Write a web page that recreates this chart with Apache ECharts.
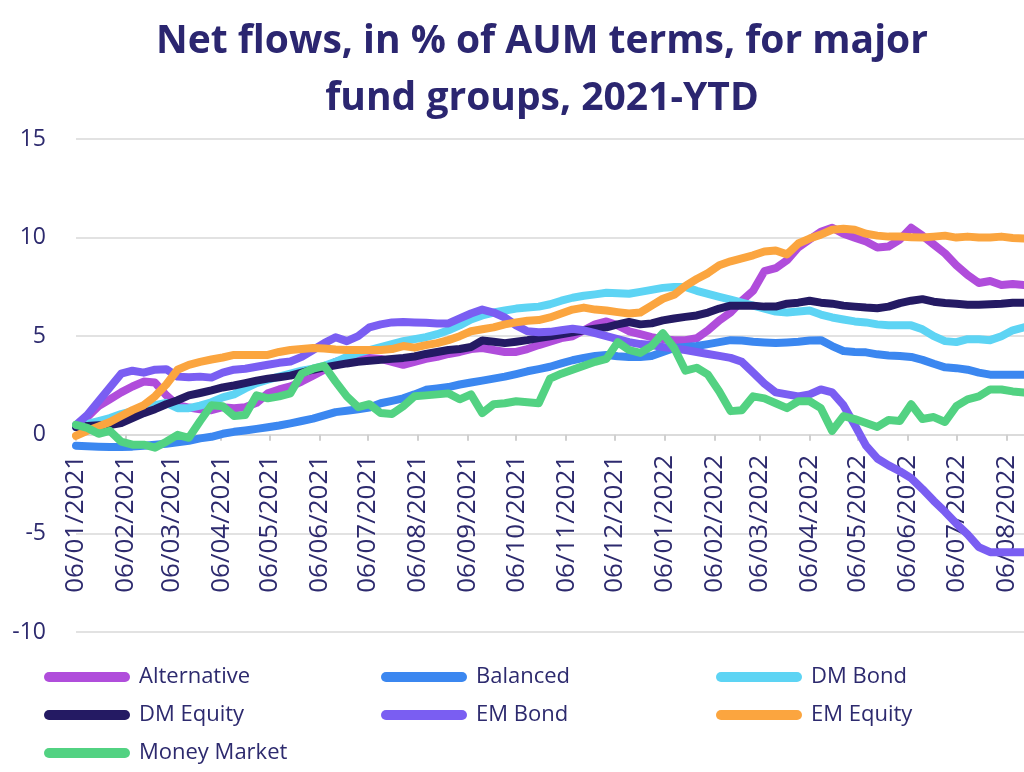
<!DOCTYPE html>
<html><head><meta charset="utf-8">
<script src="https://cdn.jsdelivr.net/npm/echarts@6/dist/echarts.min.js"></script>
<style>html,body{margin:0;padding:0;background:#fff;overflow:hidden}#c{width:1024px;height:772px}</style>
</head><body><div id="c"></div>
<script>
const titleText = 'Net flows, in % of AUM terms, for major\nfund groups, 2021-YTD';
const seriesNames = ['Alternative','Balanced','DM Bond','DM Equity','EM Bond','EM Equity','Money Market'];
const tickLabels = ['06/01/2021','06/02/2021','06/03/2021','06/04/2021','06/05/2021','06/06/2021','06/07/2021','06/08/2021','06/09/2021','06/10/2021','06/11/2021','06/12/2021','06/01/2022','06/02/2022','06/03/2022','06/04/2022','06/05/2022','06/06/2022','06/07/2022','06/08/2022'];
const yTicks = [-10,-5,0,5,10,15];
const firstDate = '06/01/2021';
const weeksCount = 85;

const alternative = [0.4,0.9,1.45,1.8,2.15,2.45,2.7,2.65,2.0,1.5,1.38,1.3,1.25,1.4,1.35,1.4,1.62,2.1,2.3,2.45,2.7,3.0,3.3,3.7,3.85,3.9,3.9,3.85,3.7,3.55,3.7,3.85,3.95,4.1,4.2,4.35,4.4,4.3,4.2,4.2,4.35,4.55,4.72,4.9,5.0,5.3,5.6,5.75,5.55,5.25,5.1,4.95,4.85,4.8,4.8,4.9,5.3,5.8,6.2,6.8,7.3,8.3,8.45,8.85,9.5,9.9,10.3,10.5,10.2,10.0,9.8,9.5,9.55,9.9,10.5,10.1,9.65,9.2,8.6,8.1,7.7,7.8,7.6,7.65,7.6];
const balanced = [-0.55,-0.58,-0.6,-0.62,-0.62,-0.6,-0.55,-0.5,-0.45,-0.38,-0.3,-0.18,-0.1,0.05,0.15,0.22,0.3,0.38,0.47,0.58,0.7,0.82,0.98,1.15,1.22,1.3,1.38,1.6,1.72,1.85,2.05,2.28,2.35,2.42,2.55,2.65,2.75,2.85,2.95,3.08,3.22,3.33,3.45,3.62,3.78,3.9,4.0,4.05,3.98,3.95,3.95,4.0,4.2,4.4,4.45,4.5,4.6,4.7,4.8,4.78,4.72,4.68,4.65,4.68,4.72,4.78,4.8,4.5,4.25,4.2,4.18,4.08,4.02,4.0,3.95,3.8,3.6,3.42,3.38,3.3,3.15,3.05,3.05,3.05,3.05];
const dmBond = [0.4,0.55,0.7,0.85,1.05,1.2,1.38,1.5,1.62,1.35,1.35,1.48,1.65,1.9,2.05,2.35,2.62,2.8,2.95,3.1,3.25,3.35,3.5,3.7,3.95,4.15,4.3,4.45,4.6,4.75,4.85,4.95,5.1,5.3,5.55,5.85,6.05,6.2,6.3,6.4,6.45,6.5,6.62,6.8,6.95,7.05,7.12,7.2,7.18,7.15,7.25,7.35,7.45,7.5,7.5,7.3,7.15,7.0,6.85,6.7,6.55,6.4,6.25,6.2,6.25,6.3,6.1,5.95,5.85,5.75,5.7,5.6,5.55,5.55,5.55,5.35,5.0,4.75,4.7,4.85,4.85,4.8,5.0,5.3,5.45];
const dmEquity = [0.4,0.45,0.48,0.5,0.6,0.85,1.1,1.3,1.55,1.75,2.0,2.12,2.25,2.4,2.5,2.62,2.75,2.85,2.92,3.0,3.15,3.3,3.42,3.52,3.62,3.7,3.75,3.8,3.85,3.9,3.97,4.1,4.2,4.3,4.35,4.45,4.78,4.72,4.65,4.72,4.8,4.9,5.0,5.1,5.2,5.3,5.38,5.45,5.6,5.72,5.6,5.65,5.8,5.9,5.98,6.05,6.2,6.4,6.55,6.55,6.55,6.5,6.5,6.65,6.7,6.8,6.7,6.65,6.55,6.5,6.45,6.42,6.5,6.68,6.8,6.88,6.75,6.68,6.65,6.6,6.6,6.62,6.65,6.7,6.7];
const emBond = [0.5,1.0,1.7,2.4,3.1,3.25,3.15,3.3,3.33,2.95,2.92,2.95,2.9,3.15,3.3,3.35,3.45,3.55,3.65,3.72,3.95,4.3,4.65,4.95,4.75,5.0,5.45,5.6,5.7,5.72,5.7,5.68,5.65,5.65,5.9,6.15,6.35,6.2,5.95,5.55,5.25,5.2,5.22,5.3,5.38,5.3,5.15,5.0,4.85,4.7,4.6,4.55,4.45,4.38,4.3,4.2,4.1,4.0,3.9,3.7,3.15,2.6,2.15,2.05,1.95,2.05,2.3,2.15,1.5,0.5,-0.55,-1.2,-1.55,-1.85,-2.2,-2.75,-3.35,-3.9,-4.5,-5.05,-5.7,-5.95,-5.95,-5.95,-5.95];
const emEquity = [-0.05,0.2,0.42,0.65,0.95,1.25,1.5,1.95,2.55,3.3,3.55,3.7,3.82,3.92,4.05,4.05,4.05,4.05,4.2,4.3,4.35,4.4,4.38,4.33,4.3,4.3,4.3,4.3,4.35,4.5,4.42,4.55,4.65,4.8,5.0,5.25,5.35,5.45,5.6,5.7,5.78,5.82,5.95,6.15,6.35,6.45,6.35,6.3,6.22,6.15,6.2,6.55,6.9,7.1,7.55,7.9,8.2,8.6,8.8,8.95,9.1,9.3,9.35,9.15,9.7,9.95,10.15,10.4,10.45,10.4,10.2,10.1,10.05,10.05,10.02,10.0,10.05,10.1,10.0,10.05,10.0,10.0,10.05,9.98,9.95];
const moneyMarket = [0.5,0.35,0.05,0.2,-0.35,-0.5,-0.5,-0.65,-0.35,0.0,-0.15,0.7,1.5,1.45,0.95,1.0,2.0,1.85,1.95,2.1,3.1,3.35,3.5,2.7,1.95,1.4,1.55,1.1,1.05,1.45,1.95,2.0,2.05,2.1,1.8,2.05,1.1,1.55,1.6,1.7,1.65,1.6,2.85,3.1,3.3,3.5,3.7,3.85,4.7,4.3,4.15,4.5,5.15,4.4,3.25,3.4,3.05,2.2,1.2,1.25,1.95,1.85,1.6,1.35,1.7,1.7,1.35,0.2,0.95,0.8,0.6,0.4,0.75,0.7,1.55,0.8,0.9,0.65,1.45,1.8,1.95,2.3,2.3,2.2,2.15];

const colors = ['#b04ddb','#3b87f0','#5dd4f4','#241a63','#7a5ef2','#fba53f','#52d282'];
const seriesValues = [alternative, balanced, dmBond, dmEquity, emBond, emEquity, moneyMarket];

function parseDMY(s){const p=s.split('/');return Date.UTC(+p[2],+p[1]-1,+p[0]);}
const DAY = 86400000;
const start = parseDMY(firstDate);
const weekDays = [];
for (let i=0;i<weeksCount;i++) weekDays.push(i*7);
const tickDays = tickLabels.map(t => Math.round((parseDMY(t)-start)/DAY));
const labelMap = {}; tickLabels.forEach((t,i)=>{labelMap[tickDays[i]]=t;});

const gridTop = 139, gridBottom = 140, chartH = 772;
const yMin = yTicks[0], yMax = yTicks[yTicks.length-1];
const plotH = chartH - gridTop - gridBottom;
const zeroOffset = -plotH * (0 - yMin) / (yMax - yMin);

const navy = '#2d2a6e';
const font = 'Open Sans';
const pill = 'path://M5 0H81A5 5 0 0 1 81 10H5A5 5 0 0 1 5 0Z';
const legendCommon = {orient:'vertical', top:664, padding:0, itemWidth:86, itemHeight:10, itemGap:12, icon:pill,
  textStyle:{fontSize:22, color:navy, fontFamily:font, lineHeight:26, padding:[0,0,0,4]}};

const chart = echarts.init(document.getElementById('c'), null, {renderer:'canvas'});
chart.setOption({
  animation:false,
  color: colors,
  title:{text:titleText, left:537, top:8, textAlign:'center',
    textStyle:{fontSize:39, fontWeight:'bold', color:'#2b2670', fontFamily:font, lineHeight:57}},
  legend:[
    Object.assign({left:44, data:['Alternative','DM Equity','Money Market']}, legendCommon),
    Object.assign({left:381, data:['Balanced','EM Bond']}, legendCommon),
    Object.assign({left:716, data:['DM Bond','EM Equity']}, legendCommon)
  ],
  grid:{left:76, right:-9, top:gridTop, bottom:gridBottom, containLabel:false},
  xAxis:{type:'value', min:0, max:weekDays[weekDays.length-1], offset:zeroOffset,
    splitLine:{show:false},
    axisLine:{onZero:false, lineStyle:{color:'#d9d9d9', width:1.5}},
    axisTick:{show:true, customValues:tickDays, length:6, lineStyle:{color:'#d0d0d0', width:2}},
    axisLabel:{customValues:tickDays, rotate:90, margin:20, fontSize:26, color:navy, fontFamily:font,
      formatter:function(v){return labelMap[v]||'';}}
  },
  yAxis:{type:'value', min:yMin, max:yMax, interval:5,
    axisLine:{show:false, onZero:false}, axisTick:{show:false},
    splitLine:{lineStyle:{color:'#d9d9d9', width:1.5}},
    axisLabel:{fontSize:23, color:navy, fontFamily:font, margin:30}
  },
  series: seriesNames.map((n,k)=>({
    name:n, type:'line', showSymbol:false, symbol:'none',
    data: seriesValues[k].map((v,i)=>[weekDays[i], v]),
    lineStyle:{width:8, color:colors[k], join:'round', cap:'round'},
    itemStyle:{color:colors[k]}
  }))
});
</script></body></html>
